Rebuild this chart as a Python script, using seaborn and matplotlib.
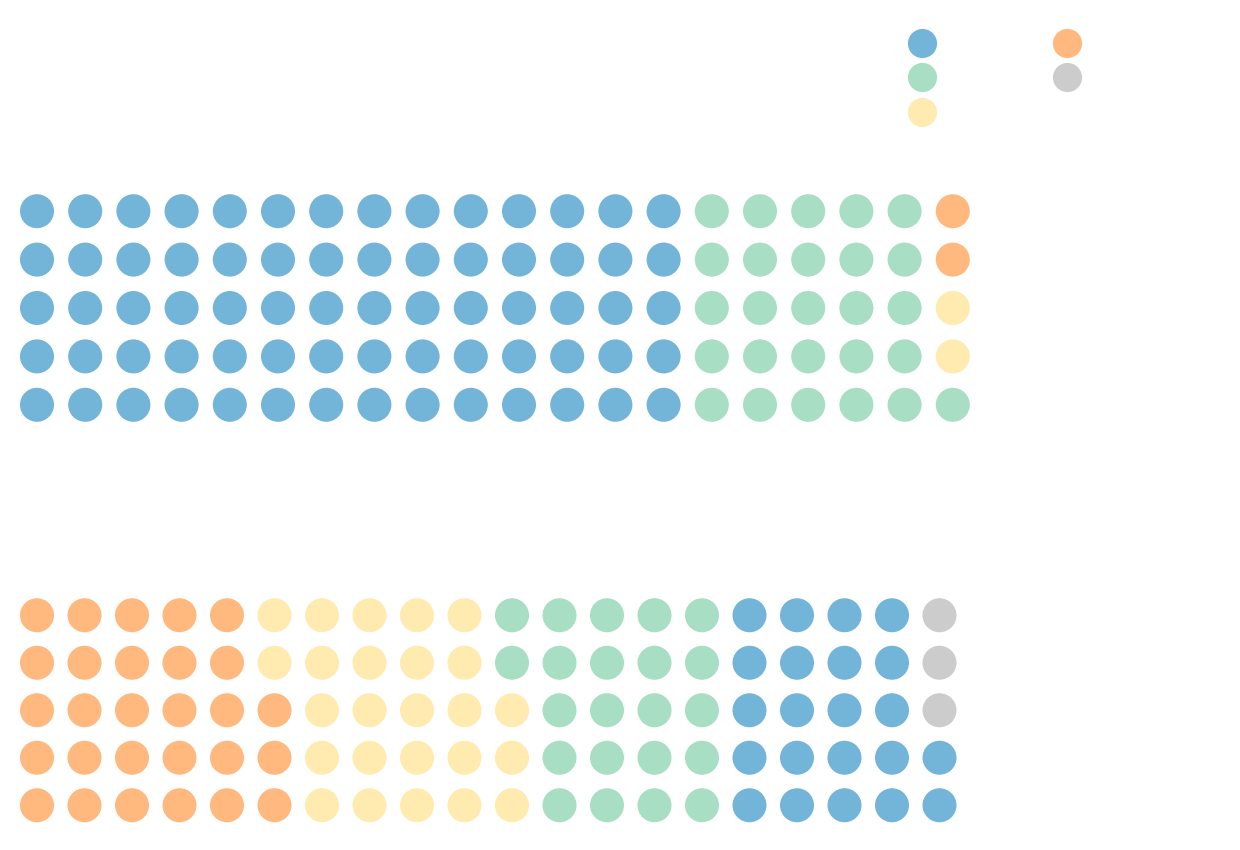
import numpy as np
import pandas as pd
import seaborn as sns
import matplotlib.pyplot as plt
from matplotlib.lines import Line2D

sns.set_theme(style="white")

# categories and colours (legend order: column-major, 2 columns)
categories = ["A", "B", "C", "D", "E"]
colors = ["#73B4D9", "#A8DEC4", "#FFEBB0", "#FFB87E", "#CCCCCC"]

# top waffle: fill order and counts
top_order = ["A", "B", "C", "D"]
top_values = [70, 26, 2, 2]

# bottom waffle
bottom_order = ["D", "C", "B", "A", "E"]
bottom_values = [28, 25, 22, 22, 3]

n_rows = 5
n_cols = 20
palette = dict(zip(categories, colors))


def waffle_frame(order, values):
    labels = np.repeat(order, values)
    k = np.arange(len(labels))
    # column-major fill, starting from the bottom row
    return pd.DataFrame({"col": k // n_rows, "row": k % n_rows, "cat": labels})


W, H = 1240, 850
fig = plt.figure(figsize=(W / 100, H / 100), dpi=100)

# axes placed in pixels
ax_top = fig.add_axes([12.9 / W, 1 - 429 / H, 964 / W, 242 / H])
ax_bot = fig.add_axes([13.25 / W, 1 - 829 / H, 950 / W, 237.5 / H])

for ax, order, values in [(ax_top, top_order, top_values),
                          (ax_bot, bottom_order, bottom_values)]:
    df = waffle_frame(order, values)
    sns.scatterplot(data=df, x="col", y="row", hue="cat", palette=palette,
                    s=600, linewidth=0, legend=False, ax=ax)
    ax.set_xlim(-0.5, n_cols - 0.5)
    ax.set_ylim(-0.5, n_rows - 0.5)
    ax.set_axis_off()

handles = [Line2D([], [], marker="o", linestyle="", markersize=21,
                  markerfacecolor=c, markeredgewidth=0) for c in colors]
fig.legend(handles, [""] * len(handles), ncol=2, frameon=False,
           loc="upper left", bbox_to_anchor=(896 / W, 1 - 24 / H),
           fontsize=10, labelspacing=1.48, columnspacing=7.6,
           handletextpad=0.8)

fig.savefig("out.png", dpi=100)
